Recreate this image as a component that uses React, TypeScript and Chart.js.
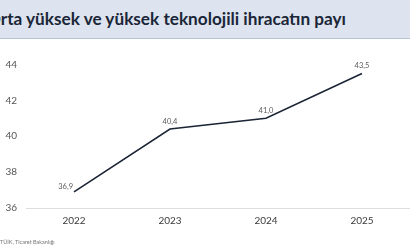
import React, { useEffect, useRef } from "react";
import { Chart, registerables } from "chart.js";

Chart.register(...registerables);

const titleText = "Orta yüksek ve yüksek teknolojili ihracatın payı";
const sourceText = "TÜİK, Ticaret Bakanlığı";
const years = ["2022", "2023", "2024", "2025"];
const shares = [36.9, 40.4, 41.0, 43.5];
const valueLabels = ["36,9", "40,4", "41,0", "43,5"];
const yTicks = [36, 38, 40, 42, 44];

const FONT = "Lato, 'Open Sans', sans-serif";

const labelPlugin = {
  id: "valueLabels",
  afterDatasetsDraw(chart: any) {
    const ctx = chart.ctx;
    const meta = chart.getDatasetMeta(0);
    ctx.save();
    ctx.font = `7.5px ${FONT}`;
    ctx.fillStyle = "#5a5a5a";
    ctx.textBaseline = "middle";
    meta.data.forEach((pt: any, i: number) => {
      if (i === 0) {
        ctx.textAlign = "right";
        ctx.fillText(valueLabels[i], pt.x - 1, pt.y - 5);
      } else {
        ctx.textAlign = "center";
        ctx.fillText(valueLabels[i], pt.x, pt.y - 7.5);
      }
    });
    ctx.restore();
  },
};

export default function App() {
  const ref = useRef<HTMLCanvasElement>(null);

  useEffect(() => {
    document.body.style.margin = "0";
    const chart = new Chart(ref.current!, {
      type: "line",
      data: {
        labels: years,
        datasets: [
          {
            data: shares,
            borderColor: "#1c2535",
            borderWidth: 1.6,
            pointRadius: 0,
            tension: 0,
            fill: false,
          },
        ],
      },
      options: {
        animation: false,
        responsive: false,
        maintainAspectRatio: false,
        layout: { padding: { top: 64.5, left: 0, right: 0, bottom: 0 } },
        plugins: { legend: { display: false }, tooltip: { enabled: false } },
        scales: {
          x: {
            offset: true,
            grid: { display: false, drawTicks: false },
            border: { display: true, color: "#dedede", width: 1 },
            ticks: { color: "#3a3a3a", font: { family: FONT, size: 10 }, padding: 7 },
            afterFit(scale: any) {
              scale.height = 42;
            },
          },
          y: {
            min: yTicks[0],
            max: yTicks[yTicks.length - 1],
            afterBuildTicks(scale: any) {
              scale.ticks = yTicks.map((v) => ({ value: v }));
            },
            grid: { display: false, drawTicks: false },
            border: { display: false },
            ticks: { color: "#555555", font: { family: FONT, size: 10 }, padding: 9 },
            afterFit(scale: any) {
              scale.width = 26;
            },
          },
        },
      },
      plugins: [labelPlugin],
    });
    return () => chart.destroy();
  }, []);

  return (
    <div style={{ position: "absolute", left: 0, top: 0, width: 410, height: 250, overflow: "hidden", background: "#ffffff" }}>
      <div
        style={{
          position: "absolute",
          left: 0,
          top: 0,
          width: 410,
          height: 38,
          background: "#dde4ef",
          borderBottom: "1px solid #b9c2d0",
          overflow: "hidden",
        }}
      >
        <div
          style={{
            position: "absolute",
            left: -13,
            top: 8,
            whiteSpace: "nowrap",
            fontFamily: FONT,
            fontWeight: 700,
            fontSize: 17.2,
            color: "#1a2638",
          }}
        >
          {titleText}
        </div>
      </div>
      <canvas ref={ref} width={410} height={250} style={{ position: "absolute", left: 0, top: 0 }} />
      <div
        style={{
          position: "absolute",
          left: 0,
          top: 239,
          whiteSpace: "nowrap",
          fontFamily: FONT,
          fontSize: 5.5,
          color: "#777777",
        }}
      >
        {sourceText}
      </div>
    </div>
  );
}
